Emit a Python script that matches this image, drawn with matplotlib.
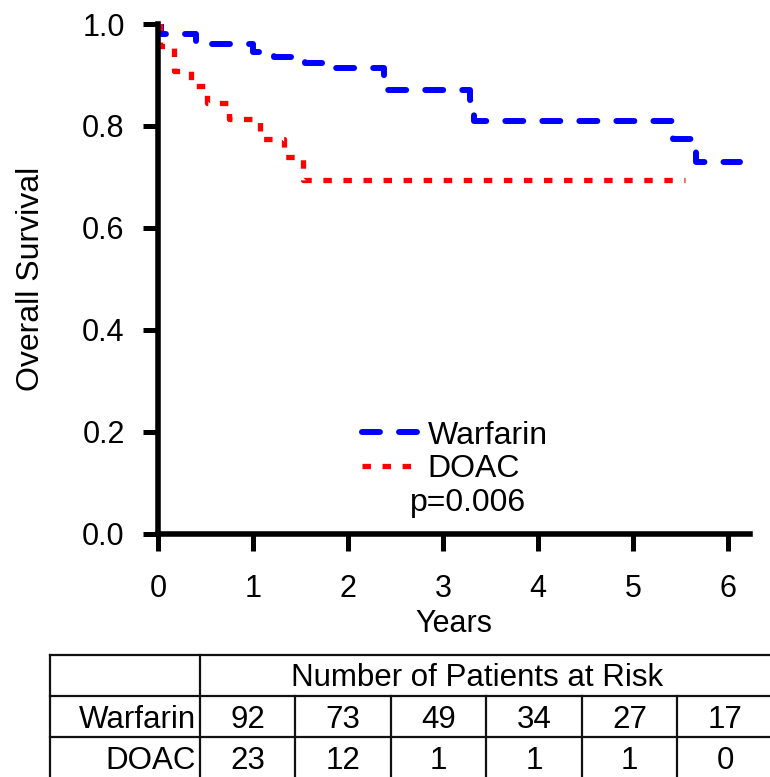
import numpy as np
import matplotlib
matplotlib.use("Agg")
import matplotlib.pyplot as plt
from matplotlib.lines import Line2D

plt.rcParams['font.family'] = ['Liberation Sans', 'DejaVu Sans']

# Kaplan-Meier curves (years, survival)
warf_t = [0, 0.03, 0.40, 1.00, 1.22, 1.55, 1.78, 2.38, 3.28, 3.33, 5.42, 5.66, 6.12]
warf_s = [1.0, 0.98, 0.96, 0.946, 0.935, 0.923, 0.913, 0.87, 0.85, 0.81, 0.775, 0.73, 0.73]

doac_t = [0, 0.02, 0.17, 0.35, 0.52, 0.75, 1.07, 1.33, 1.53, 5.55]
doac_s = [1.0, 0.957, 0.907, 0.878, 0.845, 0.814, 0.775, 0.738, 0.693, 0.693]

# numbers at risk table
risk_years = [0, 1, 2, 3, 4, 5]
warf_risk = [92, 73, 49, 34, 27, 17]
doac_risk = [23, 12, 1, 1, 1, 0]
groups = ["Warfarin", "DOAC"]

x_ticks = [0, 1, 2, 3, 4, 5, 6]
y_ticks = [0.0, 0.2, 0.4, 0.6, 0.8, 1.0]

W, H = 770, 777
fig = plt.figure(figsize=(W / 100, H / 100), dpi=100)

blue_style = dict(color='#0000ff', lw=4.3, dashes=(3.0, 3.2), dash_capstyle='round')
red_style = dict(color='#ff0000', lw=3.8, dashes=(1.6, 2.2))

# main survival plot
ax = fig.add_axes([158 / W, 1 - 533.5 / H, (750 - 158) / W, (533.5 - 24) / H])
ax.step(warf_t, warf_s, where='post', label='Warfarin', **blue_style)
ax.step(doac_t, doac_s, where='post', label='DOAC', **red_style)

ax.set_xlim(0, 6.23)
ax.set_ylim(0, 1.0)
ax.set_xticks(x_ticks)
ax.set_yticks(y_ticks)
ax.set_yticklabels([f"{v:.1f}" for v in y_ticks])
for s in ['top', 'right']:
    ax.spines[s].set_visible(False)
for s in ['left', 'bottom']:
    ax.spines[s].set_linewidth(4)
ax.tick_params(axis='y', length=11, width=3.6, labelsize=22, pad=13)
ax.tick_params(axis='x', length=12, width=3.6, labelsize=22, pad=17)
ax.set_xlabel("Years", fontsize=22)
ax.xaxis.set_label_coords(0.5, -0.149)
ax.set_ylabel("Overall Survival", fontsize=23)
ax.yaxis.set_label_coords(-0.19, 0.5)

handles = [Line2D([], [], **blue_style), Line2D([], [], **red_style)]
leg = ax.legend(handles, groups, loc='center left', bbox_to_anchor=(0.345, 0.159),
                frameon=False, fontsize=23, handlelength=1.8, handletextpad=0.25,
                labelspacing=0.12, borderpad=0, borderaxespad=0)
ax.text(0.524, 0.06, "p=0.006", transform=ax.transAxes, fontsize=23,
        ha='center', va='center')

# numbers at risk table
tab = fig.add_axes([50 / W, 1 - 778 / H, (773 - 50) / W, (778 - 655) / H])
tab.set_xlim(-1.57, 6)
tab.set_ylim(3, 0)
tab.axis('off')
lc = '#111111'
for r in [0, 1, 2]:
    tab.plot([-1.57, 6], [r, r], color=lc, lw=1.6, clip_on=False)
tab.plot([-1.57, -1.57], [0, 3], color=lc, lw=1.6, clip_on=False)
tab.plot([0, 0], [0, 3], color=lc, lw=1.6, clip_on=False)
for i in risk_years[1:]:
    tab.plot([i, i], [1, 3], color=lc, lw=1.6, clip_on=False)

tab.text(2.9, 0.55, "Number of Patients at Risk", ha='center', va='center', fontsize=22.5)
for r, (name, vals) in enumerate(zip(groups, [warf_risk, doac_risk])):
    tab.text(-0.04, r + 1.58, name, ha='right', va='center', fontsize=22.5)
    for i, v in zip(risk_years, vals):
        tab.text(i + 0.5, r + 1.58, str(v), ha='center', va='center', fontsize=22.5)

fig.savefig("out.png", dpi=100)
